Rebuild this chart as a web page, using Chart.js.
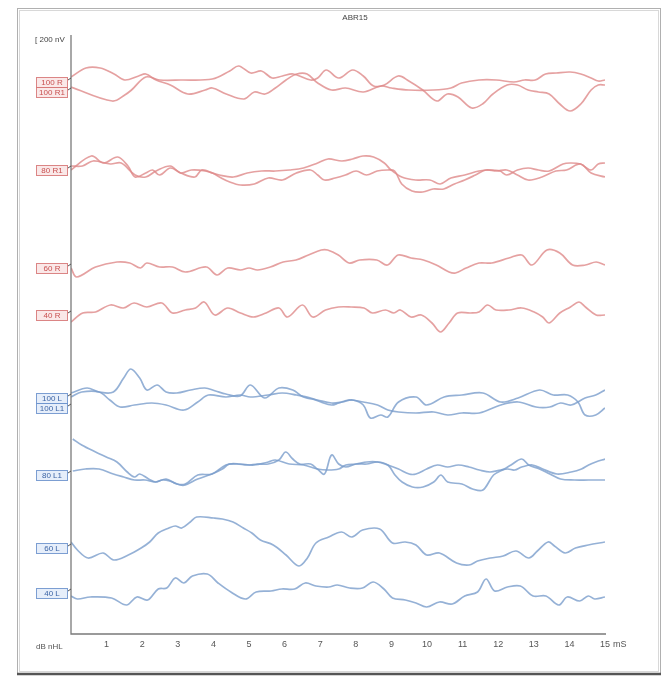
<!DOCTYPE html>
<html>
<head>
<meta charset="utf-8">
<script src="https://cdn.jsdelivr.net/npm/chart.js@4.4.1/dist/chart.umd.min.js"></script>
<style>
html,body{margin:0;padding:0;background:#fff;}
#wrap{width:667px;height:679px;position:relative;}
</style>
</head>
<body>
<div id="wrap"><canvas id="c" width="667" height="679"></canvas></div>
<script>
// ---- Data (time in ms, vertical position in chart row units, increasing downward) ----
const title = "ABR15";
const xTickLabels = ["1","2","3","4","5","6","7","8","9","10","11","12","13","14","15"];
const xTickValues = [1,2,3,4,5,6,7,8,9,10,11,12,13,14,15];
const traceNames = ["100 R","100 R1","80 R1","80 R1b","60 R","40 R","100 L","100 L1","80 L1","80 L1b","60 L","40 L"];

const tR100 = [0,0.42,0.82,1.21,1.51,1.90,2.10,2.39,2.79,3.28,3.77,3.97,4.36,4.86,5.15,5.45,5.74,6.04,6.34,6.63,6.93,7.32,7.71,8.21,8.70,9.00,9.49,10.18,10.67,10.97,11.46,11.95,12.44,12.74,13.04,13.33,13.63,14.02,14.32,14.61,14.81,15];
const vR100 = [77,68,68,74,80,76,74,80,85,94,90,88,94,99,92,94,88,80,74,74,83,90,88,92,86,88,90,90,88,83,80,80,82,80,80,74,73,72,74,78,81,80];

const tR100b = [0,1.16,1.51,1.70,2.10,2.49,3.08,3.97,4.46,4.71,5.05,5.35,5.65,5.94,6.24,6.73,6.93,7.17,7.52,7.91,8.21,8.50,8.80,9.19,9.49,9.88,10.28,10.57,10.87,11.26,11.56,11.85,12.25,12.54,12.84,13.13,13.43,13.73,14.02,14.32,14.61,14.81,15];
const vR100b = [87,101,95,90,77,80,80,79,71,66,73,71,78,76,74,80,78,70,78,70,76,86,85,76,81,90,101,94,97,108,104,94,85,85,90,92,94,104,111,104,90,85,85];

const tR80a = [0,0.57,0.91,1.31,1.60,1.80,2.10,2.29,2.49,2.79,3.08,3.48,3.67,3.97,4.17,4.46,4.76,5.15,5.54,5.94,6.33,6.73,6.93,7.12,7.42,7.71,8.01,8.30,8.60,8.89,9.09,9.29,9.58,9.88,10.17,10.47,10.77,11.06,11.36,11.65,11.95,12.24,12.54,12.84,13.23,13.62,13.92,14.31,14.61,15];
const vR80a = [170,156,163,157,166,177,173,170,175,168,173,177,170,173,177,182,185,184,178,180,173,170,175,180,178,175,171,175,171,170,171,184,191,192,189,189,184,180,175,170,171,170,175,180,177,171,170,164,173,177];

const tR80b = [0,0.32,0.62,1.11,1.41,1.80,2.10,2.39,2.79,3.08,3.38,3.77,4.17,4.56,4.95,5.35,5.74,6.14,6.53,6.93,7.22,7.61,7.91,8.20,8.50,8.80,8.99,9.29,9.68,10.08,10.37,10.67,11.06,11.46,11.75,12.05,12.24,12.54,12.84,13.13,13.43,13.82,14.02,14.31,14.61,14.81,15];
const vR80b = [166,166,161,164,163,175,177,171,166,173,170,171,175,177,173,171,171,170,168,163,159,161,159,156,157,163,170,177,180,180,184,178,175,171,170,171,175,170,168,170,171,164,163,164,170,164,163];

const tR60 = [0,0.16,0.69,1.29,1.65,1.95,2.13,2.49,2.85,3.21,3.80,4.10,4.40,4.76,5.00,5.24,5.60,5.96,6.32,6.67,7.03,7.21,7.51,7.81,8.11,8.59,8.89,9.19,9.55,9.90,10.26,10.62,10.80,11.10,11.46,11.82,12.30,12.66,12.95,13.37,13.73,14.09,14.45,14.75,15];
const vR60 = [268,277,267,262,263,268,263,267,267,272,267,275,268,270,268,270,267,262,260,255,250,250,255,263,260,260,265,255,258,260,265,272,273,268,263,263,258,255,265,250,253,265,265,262,265];

const tR40 = [0,0.33,0.69,1.11,1.47,1.77,2.13,2.55,2.85,3.21,3.50,3.74,4.04,4.40,4.76,5.12,5.48,5.84,6.08,6.50,6.79,7.15,7.51,7.87,8.23,8.47,8.83,9.07,9.25,9.55,9.84,10.14,10.38,10.62,10.86,11.22,11.46,11.70,11.94,12.30,12.66,13.01,13.25,13.43,13.73,14.03,14.27,14.45,14.75,15];
const vR40 = [322,313,312,305,308,303,307,303,313,310,308,302,315,308,313,317,313,308,317,305,317,310,307,307,308,313,310,313,310,317,315,323,332,323,313,313,312,305,310,310,308,312,317,323,313,307,302,307,315,315];

const tL100 = [0,0.45,0.79,1.19,1.48,1.68,1.93,2.13,2.42,2.67,2.97,3.36,3.76,4.06,4.35,4.75,5.04,5.44,5.84,6.23,6.53,6.92,7.32,7.62,7.91,8.21,8.41,8.70,8.90,9.20,9.69,9.99,10.48,10.98,11.57,12.07,12.56,13.16,13.55,13.95,14.24,14.44,14.74,15];
const vL100 = [393,388,392,392,378,369,378,390,385,392,393,390,388,391,394,396,385,398,388,390,397,400,403,402,400,405,418,415,417,402,397,405,397,395,393,402,398,390,395,395,402,415,415,408];

const tL100b = [0,0.30,0.79,1.09,1.38,1.78,2.27,2.67,3.17,3.56,3.86,4.35,4.75,5.04,5.54,5.93,6.33,6.73,7.02,7.32,7.52,7.81,8.21,8.61,8.90,9.20,9.69,10.19,10.58,10.98,11.47,12.07,12.56,13.06,13.45,13.75,14.05,14.44,14.74,15];
const vL100b = [397,392,392,400,407,405,403,405,410,402,395,397,395,397,395,393,395,398,402,405,403,400,402,405,410,412,413,412,415,413,413,405,402,407,407,403,405,398,395,390];

const tL80a = [0.05,0.30,0.69,0.99,1.29,1.58,1.78,1.93,2.18,2.37,2.67,2.97,3.21,3.56,3.96,4.35,4.65,4.95,5.24,5.54,5.84,6.03,6.23,6.43,6.73,6.92,7.12,7.32,7.52,7.72,8.01,8.31,8.61,8.90,9.10,9.30,9.59,9.89,10.19,10.39,10.58,10.98,11.28,11.57,11.87,12.17,12.36,12.66,12.86,13.16,13.45,13.75,14.14,14.54,15];
const vL80a = [439,445,452,457,462,472,477,474,479,482,479,484,484,475,474,465,464,465,464,464,460,452,459,464,464,469,474,455,464,467,464,464,462,465,475,482,487,487,482,475,482,484,489,490,475,469,465,459,465,469,474,479,480,480,480];

const tL80b = [0.05,0.40,0.79,1.19,1.48,1.78,2.08,2.37,2.57,2.77,3.07,3.21,3.56,3.96,4.25,4.45,4.75,5.14,5.54,5.74,6.13,6.53,6.92,7.22,7.52,7.72,8.01,8.31,8.61,8.90,9.20,9.50,9.69,9.99,10.29,10.58,10.88,11.18,11.47,11.77,12.07,12.27,12.46,12.66,12.96,13.25,13.65,14.05,14.34,14.54,14.74,15];
const vL80b = [471,469,469,474,477,480,480,482,480,481,485,485,479,474,469,464,464,465,462,460,464,465,469,470,469,465,464,462,462,465,469,474,474,469,465,467,465,467,470,472,470,469,470,467,465,469,474,472,469,465,462,459];

const tL60 = [0,0.18,0.48,0.90,1.20,1.61,1.97,2.21,2.45,2.75,2.93,3.11,3.35,3.53,4.01,4.25,4.55,4.84,5.08,5.32,5.68,6.04,6.40,6.64,6.88,7.24,7.60,7.89,8.19,8.67,9.03,9.39,9.69,9.99,10.35,10.83,11.18,11.42,11.78,12.14,12.50,12.86,13.10,13.40,13.58,13.88,14.17,14.53,15];
const vL60 = [542,550,558,553,560,555,548,542,533,528,526,528,522,517,518,519,522,528,533,540,545,555,566,558,543,537,532,537,530,529,543,542,545,555,553,563,565,561,558,556,551,558,551,542,546,553,548,545,542];

const tL40 = [0,0.18,0.54,1.14,1.56,1.85,2.15,2.45,2.69,2.93,3.17,3.41,3.83,4.13,4.49,4.90,5.20,5.62,5.92,6.28,6.58,6.88,7.24,7.48,7.83,8.19,8.49,8.79,9.03,9.39,9.69,9.99,10.35,10.71,11.06,11.42,11.66,11.90,12.26,12.62,12.98,13.34,13.70,13.94,14.29,14.53,14.71,15];
const vL40 = [596,599,597,598,605,597,600,589,588,578,583,576,574,583,592,599,592,591,589,589,583,586,587,585,588,588,582,589,598,600,603,607,602,604,596,592,579,591,587,586,596,596,605,597,601,596,599,597];

const labelRows = [82,92,170,268,315,398,408,475,548,593];
const labelTexts = ["100 R","100 R1","80 R1","60 R","40 R","100 L","100 L1","80 L1","60 L","40 L"];
const labelSides = ["R","R","R","R","R","L","L","L","L","L"];

// ---- Build datasets ----
const RED = "rgba(222,138,138,0.8)";
const BLUE = "rgba(122,158,204,0.8)";
const traces = [
  [tR100,vR100,RED],[tR100b,vR100b,RED],[tR80a,vR80a,RED],[tR80b,vR80b,RED],
  [tR60,vR60,RED],[tR40,vR40,RED],[tL100,vL100,BLUE],[tL100b,vL100b,BLUE],
  [tL80a,vL80a,BLUE],[tL80b,vL80b,BLUE],[tL60,vL60,BLUE],[tL40,vL40,BLUE]
];
const datasets = traces.map((tr,i)=>({
  label: traceNames[i],
  data: tr[0].map((x,j)=>({x:x,y:tr[1][j]})),
  borderColor: tr[2],
  borderWidth: 1.7,
  pointRadius: 0,
  tension: 0.35,
  fill: false
}));

const decor = {
  id: 'decor',
  beforeDraw(chart){
    const ctx = chart.ctx;
    ctx.save();
    ctx.fillStyle = '#fff';
    ctx.fillRect(0,0,chart.width,chart.height);
    // frame
    ctx.strokeStyle = '#b0b0b0'; ctx.lineWidth = 1;
    ctx.strokeRect(17.5,8.5,643,665);
    ctx.strokeStyle = '#d8d8d8';
    ctx.strokeRect(19.5,10.5,639,661);
    ctx.strokeStyle = '#555'; ctx.lineWidth = 2.5;
    ctx.beginPath(); ctx.moveTo(17,674); ctx.lineTo(661,674); ctx.stroke();
    ctx.restore();
  },
  afterDraw(chart){
    const ctx = chart.ctx;
    const xs = chart.scales.x, ys = chart.scales.y;
    const x0 = xs.getPixelForValue(0), x15 = xs.getPixelForValue(15);
    const yTop = ys.getPixelForValue(ys.min), yBot = ys.getPixelForValue(ys.max);
    ctx.save();
    // axes
    ctx.strokeStyle = '#7a7a7a'; ctx.lineWidth = 1.3;
    ctx.beginPath(); ctx.moveTo(x0, yTop); ctx.lineTo(x0, yBot); ctx.lineTo(x15+1, yBot); ctx.stroke();
    // tick labels
    ctx.fillStyle = '#555';
    ctx.font = '9px "Liberation Sans", Arial, sans-serif';
    ctx.textAlign = 'center'; ctx.textBaseline = 'middle';
    xTickValues.forEach((v,i)=>{ ctx.fillText(xTickLabels[i], xs.getPixelForValue(v), yBot + 11); });
    ctx.textAlign = 'left';
    ctx.fillText('mS', x15 + 8, yBot + 11);
    ctx.font = '8px "Liberation Sans", Arial, sans-serif';
    ctx.fillText('dB nHL', 36, yBot + 13);
    // title
    ctx.font = '8px "Liberation Sans", Arial, sans-serif';
    ctx.textAlign = 'center'; ctx.fillStyle = '#444';
    ctx.fillText(title, 355, 18);
    // scale marker
    ctx.textAlign = 'left';
    ctx.fillText('[ 200 nV', 35, 40);
    // trace labels
    labelRows.forEach((r,i)=>{
      const y = ys.getPixelForValue(r);
      const isR = labelSides[i] === 'R';
      const w = 31;
      ctx.fillStyle = isR ? 'rgba(250,232,232,1)' : 'rgba(230,238,250,1)';
      ctx.fillRect(37, Math.round(y) - 4, w - 1, 9);
      ctx.strokeStyle = isR ? 'rgba(215,120,120,0.9)' : 'rgba(110,148,205,0.9)';
      ctx.lineWidth = 1;
      ctx.strokeRect(36.5, Math.round(y) - 4.5, w, 10);
      ctx.font = '8px "Liberation Sans", Arial, sans-serif';
      ctx.fillStyle = isR ? 'rgb(200,80,80)' : 'rgb(60,100,165)';
      ctx.textAlign = 'center';
      ctx.fillText(labelTexts[i], 52, y + 0.5);
      ctx.strokeStyle = '#555';
      ctx.beginPath(); ctx.moveTo(x0 - 3, y - 2); ctx.lineTo(x0, y - 4); ctx.stroke();
    });
    ctx.restore();
  }
};

new Chart(document.getElementById('c'), {
  type: 'line',
  data: { datasets },
  options: {
    responsive: false,
    animation: false,
    layout: { padding: { left: 71, right: 62, top: 35, bottom: 45 } },
    plugins: { legend: { display: false }, tooltip: { enabled: false }, title: { display: false } },
    scales: {
      x: { type: 'linear', min: 0, max: 15, display: false },
      y: { type: 'linear', min: 35, max: 634, reverse: true, display: false }
    }
  },
  plugins: [decor]
});
</script>
</body>
</html>
